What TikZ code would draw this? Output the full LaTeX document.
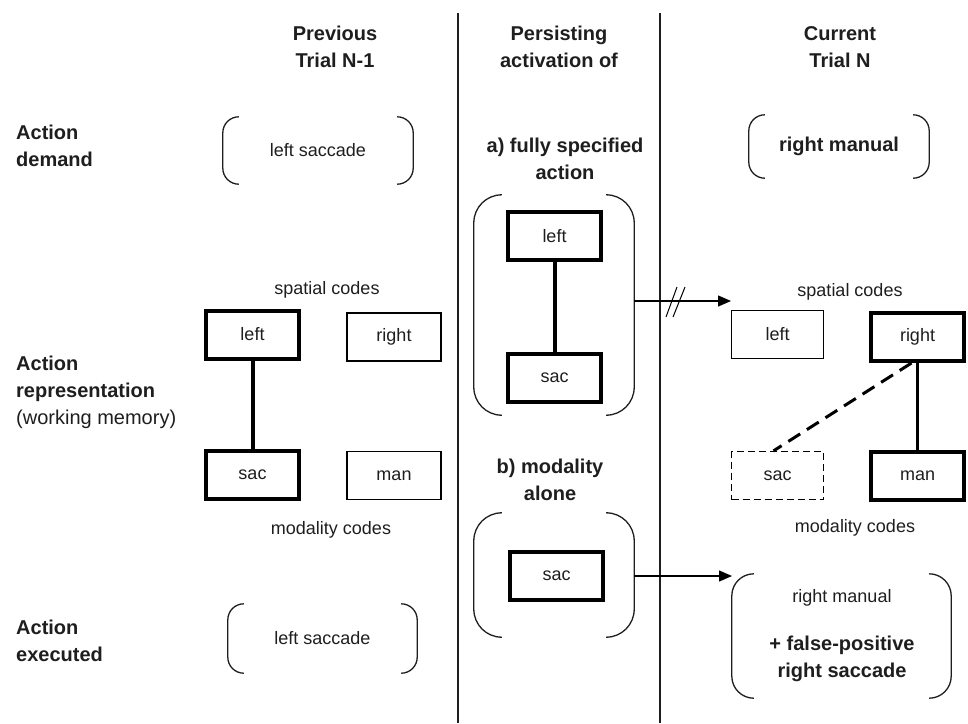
\documentclass[tikz,border=0pt]{standalone}
\usepackage{fontspec}
\setmainfont{Liberation Sans}
\usetikzlibrary{arrows.meta}
\definecolor{ink}{HTML}{1E1E1E}
\newcommand\drawbrk[2]{%
  \draw[brk, rounded corners=#2] ([xshift=#2]#1.north west) -- (#1.north west) -- (#1.south west) -- ([xshift=#2]#1.south west);
  \draw[brk, rounded corners=#2] ([xshift=-#2]#1.north east) -- (#1.north east) -- (#1.south east) -- ([xshift=-#2]#1.south east);}
\begin{document}
\begin{tikzpicture}[x=1pt,y=-1pt,
  hd/.style={font=\fontsize{20}{27}\selectfont\bfseries, align=center, text=ink, inner sep=0pt},
  rowlbl/.style={hd, align=left, anchor=west},
  txt/.style={font=\fontsize{18}{24}\selectfont, text=ink, inner sep=0pt},
  codebox/.style={draw=black, minimum width=94pt, minimum height=48pt, inner sep=0pt, font=\fontsize{18}{24}\selectfont, text=ink},
  thinbox/.style={codebox, line width=1.3pt},
  thickbox/.style={codebox, line width=4pt, minimum width=93pt, minimum height=48pt},
  dashbox/.style={codebox, line width=1.3pt, dash pattern=on 7pt off 4pt},
  brk/.style={draw=ink, line width=1.3pt},
  brkarea/.style 2 args={minimum width=#1pt, minimum height=#2pt, inner sep=0pt, font=\fontsize{18}{24}\selectfont, text=ink, align=center},
  divider/.style={draw=ink, line width=1.5pt},
  link/.style={draw=black, line width=4pt},
  arr/.style={draw=black, line width=1.3pt, -{Triangle[length=13pt, width=11pt]}}
]
\useasboundingbox (0,0) rectangle (968,723);

% dividers
\coordinate (d1t) at (458,13); \coordinate (d1b) at (458,723);
\coordinate (d2t) at (660,13); \coordinate (d2b) at (660,723);
\draw[divider] (d1t) -- (d1b);
\draw[divider] (d2t) -- (d2b);

% headers
\node[hd] (h1) at (335,47) {Previous\\Trial N-1};
\node[hd] (h2) at (559,47) {Persisting\\activation of};
\node[hd] (h3) at (840,47) {Current\\Trial N};

% row labels
\node[rowlbl] (r1) at (16,146) {Action\\demand};
\node[rowlbl] (r2) at (16,392) {Action\\representation\\{\mdseries (working memory)}};
\node[rowlbl] (r3) at (16,641) {Action\\executed};

% action demand brackets
\node[brkarea={190}{67}] (brD1) at (318,150.5) {left saccade};
\drawbrk{brD1}{16}
\node[brkarea={180}{63}, font=\fontsize{20}{27}\selectfont\bfseries] (brD2) at (839,146.5) {right manual};
\drawbrk{brD2}{16}

% previous trial representation
\node[txt] (sc1) at (327,290) {spatial codes};
\node[thickbox] (Lleft) at (252.5,334.5) {left};
\node[thinbox] (Lright) at (394,337) {right};
\node[thickbox] (Lsac) at (252.5,475) {sac};
\node[thinbox] (Lman) at (394,475.5) {man};
\node[txt] (mc1) at (331,530) {modality codes};
\draw[link] (Lleft.south) -- (Lsac.north);

% persisting activation a)
\node[hd] (pa) at (565,159) {a) fully specified\\action};
\node[brkarea={160}{220}] (brA) at (554,305) {};
\drawbrk{brA}{28}
\node[thickbox] (Aleft) at (554.5,236) {left};
\node[thickbox] (Asac) at (554.5,377.5) {sac};
\draw[link] (Aleft.south) -- (Asac.north);

% persisting activation b)
\node[hd] (pb) at (550,480) {b) modality\\alone};
\node[brkarea={160}{124}] (brB) at (554,575) {};
\drawbrk{brB}{28}
\node[thickbox] (Bsac) at (556.5,576) {sac};

% current trial representation
\node[txt] (sc2) at (850,292) {spatial codes};
\node[thinbox, minimum width=92pt] (Rleft) at (777.5,334.5) {left};
\node[thickbox] (Rright) at (917.5,337) {right};
\node[dashbox, minimum width=92pt] (Rsac) at (777.5,475.5) {sac};
\node[thickbox] (Rman) at (917.5,476) {man};
\node[txt] (mc2) at (855,528) {modality codes};
\draw[draw=black, line width=2.5pt] (Rright.south) -- (Rman.north);
\draw[draw=black, line width=3pt, dash pattern=on 14pt off 8pt] ([xshift=-6pt]Rright.south) -- ([xshift=-4pt]Rsac.north);

% arrows
\coordinate (tipA) at (731,301);
\draw[arr] ([yshift=4pt]brA.east) -- (tipA);
\draw[line width=1pt, draw=black] (666,317) -- (677,287);
\draw[line width=1pt, draw=black] (673,317) -- (685,287);
\coordinate (tipB) at (732,576);
\draw[arr] (brB.east |- tipB) -- (tipB);

% action executed
\node[brkarea={189}{69}] (brE) at (322.5,638.5) {left saccade};
\drawbrk{brE}{16}
\node[brkarea={219}{124}] (brR) at (841.5,636) {};
\drawbrk{brR}{22}
\node[txt] (rm) at (842,598) {right manual};
\node[hd] (fp) at (842,659) {+ false-positive\\right saccade};
\end{tikzpicture}
\end{document}
